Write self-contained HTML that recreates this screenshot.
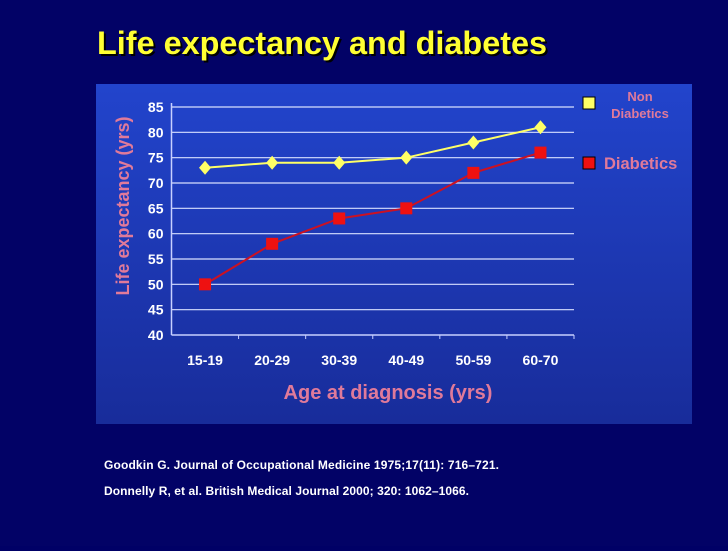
<!DOCTYPE html>
<html><head><meta charset="utf-8"><style>
html,body{margin:0;padding:0;background:#000066;}
body{width:728px;height:546px;overflow:hidden;font-family:"Liberation Sans",sans-serif;}
</style></head><body>
<svg width="728" height="546" xmlns="http://www.w3.org/2000/svg">
<defs>
<linearGradient id="pg" x1="0" y1="0" x2="0" y2="1">
<stop offset="0" stop-color="#2244cc"/><stop offset="1" stop-color="#182c9a"/>
</linearGradient>
</defs>
<rect width="728" height="546" fill="#020266"/>
<text x="99" y="56" font-size="32.4" font-weight="bold" fill="#000">Life expectancy and diabetes</text>
<text x="97" y="54" font-size="32.4" font-weight="bold" fill="#ffff33">Life expectancy and diabetes</text>
<rect x="96" y="84" width="596" height="340" fill="url(#pg)"/>
<g id="chart"></g>
<text x="640" y="101" font-size="13" font-weight="bold" fill="#e07a9a" text-anchor="middle">Non</text>
<text x="640" y="118" font-size="13" font-weight="bold" fill="#e07a9a" text-anchor="middle">Diabetics</text>
<rect x="583" y="97" width="12" height="12" fill="#ffff66" stroke="#000"/>
<rect x="583" y="157" width="12" height="12" fill="#ee1111" stroke="#000"/>
<text x="604" y="169" font-size="16.5" font-weight="bold" fill="#e07a9a">Diabetics</text>
<text x="388" y="399" font-size="20" font-weight="bold" fill="#e07a9a" text-anchor="middle">Age at diagnosis (yrs)</text>
<text transform="translate(129,206) rotate(-90)" font-size="18" font-weight="bold" fill="#e07a9a" text-anchor="middle">Life expectancy (yrs)</text>
<text x="104" y="469" font-size="12" font-weight="bold" fill="#fff" textLength="395">Goodkin G. Journal of Occupational Medicine 1975;17(11):  716–721.</text>
<text x="104" y="495" font-size="12" font-weight="bold" fill="#fff" textLength="365">Donnelly R, et al. British Medical Journal 2000; 320: 1062–1066.</text>
</svg>
<script>
const categories=["15-19","20-29","30-39","40-49","50-59","60-70"];
const nonDiabetics=[73,74,74,75,78,81];
const diabetics=[50,58,63,65,72,76];
const yTicks=[40,45,50,55,60,65,70,75,80,85];
const NS="http://www.w3.org/2000/svg";
const g=document.getElementById("chart");
const x0=171.5,x1=574,yTop=107,yBot=335,yMin=40,yMax=85;
const band=(x1-x0)/categories.length;
const xs=i=>x0+band*(i+0.5);
const ys=v=>yBot-(v-yMin)/(yMax-yMin)*(yBot-yTop);
function mk(t,a){const e=document.createElementNS(NS,t);for(const k in a)e.setAttribute(k,a[k]);g.appendChild(e);return e;}
yTicks.forEach(v=>{
 if(v>yMin){const l=mk("line",{x1:x0,x2:x1,y1:ys(v),y2:ys(v),stroke:"#d8e0ff","stroke-width":1.2});
 
 }
 const t=mk("text",{x:x0-8,y:ys(v)+5,"font-size":14,"font-weight":"bold",fill:"#fff","text-anchor":"end"});t.textContent=v;
 
 
});
const ax=mk("line",{x1:x0,x2:x0,y1:yTop-4,y2:yBot,stroke:"#c8d0ff","stroke-width":1.5});


const bx=mk("line",{x1:x0,x2:x1,y1:yBot,y2:yBot,stroke:"#c8d0ff","stroke-width":1.5});


categories.forEach((c,i)=>{
 const tk=mk("line",{x1:x0+band*(i+1),x2:x0+band*(i+1),y1:yBot,y2:yBot+4,stroke:"#c8d0ff"});
 
 
 const t=mk("text",{x:xs(i),y:yBot+30,"font-size":14,"font-weight":"bold",fill:"#fff","text-anchor":"middle"});t.textContent=c;
 
 
});
function series(vals,color,name){
 const p=mk("polyline",{points:vals.map((v,i)=>xs(i)+","+ys(v)).join(" "),fill:"none",stroke:color,"stroke-width":2});
 
 
}
series(nonDiabetics,"#ffff66","non-diabetics");
series(diabetics,"#cc1122","diabetics");
nonDiabetics.forEach((v,i)=>{
 const x=xs(i),y=ys(v);
 const d=mk("polygon",{points:`${x},${y-7} ${x+6},${y} ${x},${y+7} ${x-6},${y}`,fill:"#ffff66"});
 
 
});
diabetics.forEach((v,i)=>{
 const r=mk("rect",{x:xs(i)-6,y:ys(v)-6,width:12,height:12,fill:"#ee1111"});
 
 
});
</script>
</body></html>
